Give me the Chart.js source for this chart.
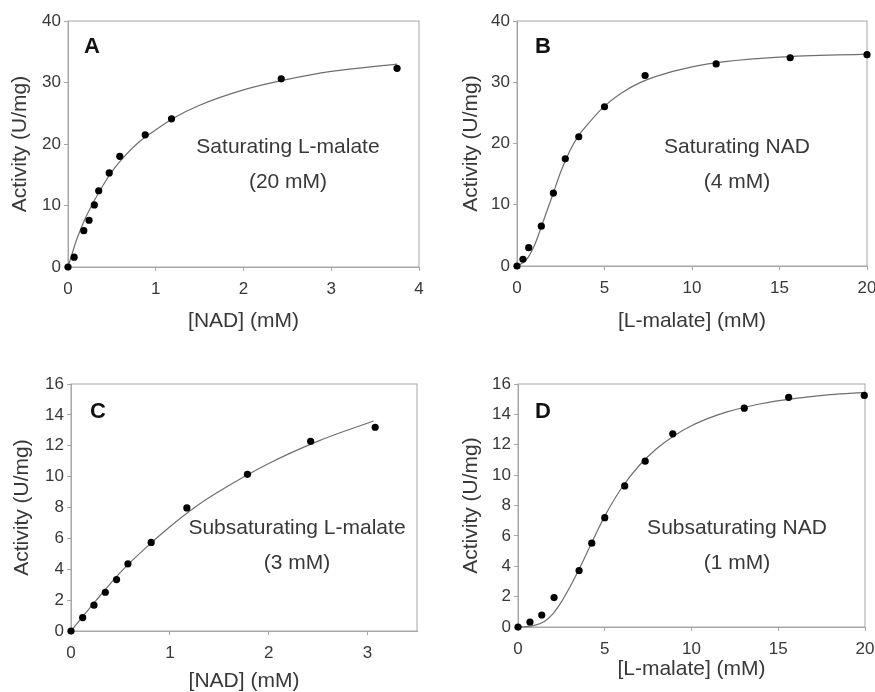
<!DOCTYPE html>
<html>
<head>
<meta charset="utf-8">
<script src="https://cdn.jsdelivr.net/npm/chart.js@4.4.0/dist/chart.umd.min.js"></script>
<style>
  html, body { margin: 0; padding: 0; background: #fff; }
  #wrap { position: relative; width: 875px; height: 692px; overflow: hidden; }
  canvas { position: absolute; }
</style>
</head>
<body>
<div id="wrap">
  <canvas id="chartA" width="437" height="345" style="left:0;top:0"></canvas>
  <canvas id="chartB" width="438" height="345" style="left:437px;top:0"></canvas>
  <canvas id="chartC" width="437" height="352" style="left:0;top:340px"></canvas>
  <canvas id="chartD" width="438" height="352" style="left:437px;top:340px"></canvas>
</div>
<script>
// ---- A: NAD varied, saturating L-malate ----
const nadA = [0, 0.07, 0.18, 0.24, 0.30, 0.35, 0.47, 0.59, 0.88, 1.18, 2.43, 3.75];
const actA = [0, 1.6, 5.9, 7.6, 10.1, 12.4, 15.3, 18.0, 21.5, 24.1, 30.6, 32.3];
const fitNadA = [0, 0.05, 0.1, 0.2, 0.3, 0.4, 0.5, 0.6, 0.8, 1.0, 1.2, 1.5, 2.0, 2.5, 3.0, 3.75];
const fitActA = [0, 2.3, 4.5, 8.0, 10.8, 13.3, 15.5, 17.3, 20.2, 22.3, 24.2, 26.3, 28.8, 30.5, 31.8, 33.0];

// ---- B: L-malate varied, saturating NAD ----
const malB = [0, 0.34, 0.67, 1.39, 2.08, 2.76, 3.53, 5.0, 7.32, 11.38, 15.61, 20.0];
const actB = [0, 1.1, 3.0, 6.5, 11.9, 17.5, 21.1, 26.0, 31.1, 33.0, 34.0, 34.5];
const fitMalB = [0, 0.5, 1, 1.5, 2, 2.5, 3, 3.5, 4, 5, 6, 7, 8, 10, 12, 15, 20];
const fitActB = [0, 0.9, 3.4, 7.3, 11.3, 15.4, 18.7, 21.2, 23.0, 26.1, 28.3, 29.9, 31.0, 32.5, 33.4, 34.1, 34.6];

// ---- C: NAD varied, subsaturating L-malate ----
const nadC = [0, 0.118, 0.232, 0.347, 0.461, 0.576, 0.811, 1.172, 1.785, 2.424, 3.077];
const actC = [0, 0.87, 1.67, 2.51, 3.33, 4.35, 5.74, 7.97, 10.15, 12.29, 13.2];
const fitNadC = [0, 0.25, 0.5, 0.75, 1.0, 1.25, 1.5, 2.0, 2.5, 3.06];
const fitActC = [0, 1.95, 3.8, 5.35, 6.75, 8.0, 9.05, 10.85, 12.3, 13.6];

// ---- D: L-malate varied, subsaturating NAD ----
const malD = [0, 0.69, 1.37, 2.08, 3.52, 4.25, 5.0, 6.15, 7.33, 8.92, 13.04, 15.6, 19.96];
const actD = [0, 0.33, 0.79, 1.94, 3.72, 5.52, 7.2, 9.29, 10.92, 12.72, 14.41, 15.12, 15.25];
const fitMalD = [0, 0.5, 1, 1.5, 2, 2.5, 3, 3.5, 4, 4.5, 5, 6, 7, 8, 9, 10, 11, 12, 14, 16, 18, 20];
const fitActD = [0, 0.03, 0.12, 0.35, 0.85, 1.65, 2.65, 3.75, 4.95, 6.15, 7.3, 9.2, 10.65, 11.75, 12.6, 13.25, 13.75, 14.15, 14.7, 15.05, 15.3, 15.45];

const yTitle = "Activity (U/mg)";
const FONT = "'Liberation Sans', Arial, sans-serif";
const TEXT = "#383838";
const AXIS = "#a6a6a6";

const pairs = (xs, ys) => xs.map((x, i) => ({ x: x, y: ys[i] }));

// box around plot area (reference has all four sides)
const framePlugin = {
  id: "frame",
  beforeDatasetsDraw(chart) {
    const { ctx, chartArea: a } = chart;
    ctx.save();
    ctx.strokeStyle = AXIS;
    ctx.lineWidth = 1;
    ctx.strokeRect(a.left, a.top, a.right - a.left, a.bottom - a.top);
    ctx.restore();
  }
};

function makePanel(id, p) {
  // panel letter + condition text, positions in canvas pixels
  const notePlugin = {
    id: "notes",
    afterDraw(chart) {
      const ctx = chart.ctx;
      ctx.save();
      ctx.fillStyle = "#111";
      ctx.textAlign = "center";
      ctx.textBaseline = "middle";
      ctx.font = "bold 22px " + FONT;
      ctx.fillText(p.letter, p.letterAt[0], p.letterAt[1]);
      ctx.fillStyle = TEXT;
      ctx.font = "21px " + FONT;
      p.note.forEach((line, i) => ctx.fillText(line, p.noteAt[0], p.noteAt[1] + i * 35));
      ctx.restore();
    }
  };

  return new Chart(document.getElementById(id), {
    type: "scatter",
    data: {
      datasets: [
        {
          label: "measured",
          data: pairs(p.x, p.y),
          pointRadius: 3.6,
          pointBackgroundColor: "#000",
          pointBorderWidth: 0,
          clip: false
        },
        {
          label: "fit",
          data: pairs(p.fx, p.fy),
          showLine: true,
          pointRadius: 0,
          borderColor: "#6f6f6f",
          borderWidth: 1.2,
          cubicInterpolationMode: "monotone",
          clip: false
        }
      ]
    },
    options: {
      responsive: false,
      animation: false,
      events: [],
      layout: { padding: { top: p.padTop, right: p.padRight, left: 0, bottom: 0 } },
      plugins: { legend: { display: false }, tooltip: { enabled: false } },
      scales: {
        x: {
          min: 0,
          max: p.xMax,
          ticks: { stepSize: p.xStep, includeBounds: false, maxRotation: 0, padding: 8,
                   color: TEXT, font: { family: FONT, size: 17 } },
          grid: { drawOnChartArea: false, tickLength: 4, color: AXIS },
          border: { color: AXIS },
          title: { display: true, text: p.xTitle, color: TEXT,
                   font: { family: FONT, size: 21, lineHeight: 1 },
                   padding: { top: 0, bottom: p.xTitlePad } },
          afterFit: s => { s.height = p.xH; s.paddingLeft = 0; s.paddingRight = 0; }
        },
        y: {
          min: 0,
          max: p.yMax,
          ticks: { stepSize: p.yStep, padding: 3, color: TEXT, font: { family: FONT, size: 17 } },
          grid: { drawOnChartArea: false, tickLength: 4, color: AXIS },
          border: { color: AXIS },
          title: { display: true, text: yTitle, color: TEXT,
                   font: { family: FONT, size: 21, lineHeight: 1 },
                   padding: { top: p.yTitlePad, bottom: 0 } },
          afterFit: s => { s.width = p.yW; s.paddingTop = 0; s.paddingBottom = 0; }
        }
      }
    },
    plugins: [framePlugin, notePlugin]
  });
}

makePanel("chartA", {
  x: nadA, y: actA, fx: fitNadA, fy: fitActA,
  xMax: 4, xStep: 1, yMax: 40, yStep: 10, xTitle: "[NAD] (mM)",
  padTop: 21, padRight: 18, yW: 68, xH: 78, xTitlePad: 13, yTitlePad: 10,
  letter: "A", letterAt: [92, 47], note: ["Saturating L-malate", "(20 mM)"], noteAt: [288, 147]
});

makePanel("chartB", {
  x: malB, y: actB, fx: fitMalB, fy: fitActB,
  xMax: 20, xStep: 5, yMax: 40, yStep: 10, xTitle: "[L-malate] (mM)",
  padTop: 21, padRight: 8, yW: 80, xH: 79, xTitlePad: 13, yTitlePad: 24,
  letter: "B", letterAt: [106, 47], note: ["Saturating NAD", "(4 mM)"], noteAt: [300, 147]
});

makePanel("chartC", {
  x: nadC, y: actC, fx: fitNadC, fy: fitActC,
  xMax: 3.5, xStep: 1, yMax: 16, yStep: 2, xTitle: "[NAD] (mM)",
  padTop: 44, padRight: 20, yW: 71, xH: 61, xTitlePad: 0, yTitlePad: 12,
  letter: "C", letterAt: [98, 72], note: ["Subsaturating L-malate", "(3 mM)"], noteAt: [297, 188]
});

makePanel("chartD", {
  x: malD, y: actD, fx: fitMalD, fy: fitActD,
  xMax: 20, xStep: 5, yMax: 16, yStep: 2, xTitle: "[L-malate] (mM)",
  padTop: 44, padRight: 10, yW: 81, xH: 65, xTitlePad: 12, yTitlePad: 24,
  letter: "D", letterAt: [106, 72], note: ["Subsaturating NAD", "(1 mM)"], noteAt: [300, 188]
});
</script>
</body>
</html>
